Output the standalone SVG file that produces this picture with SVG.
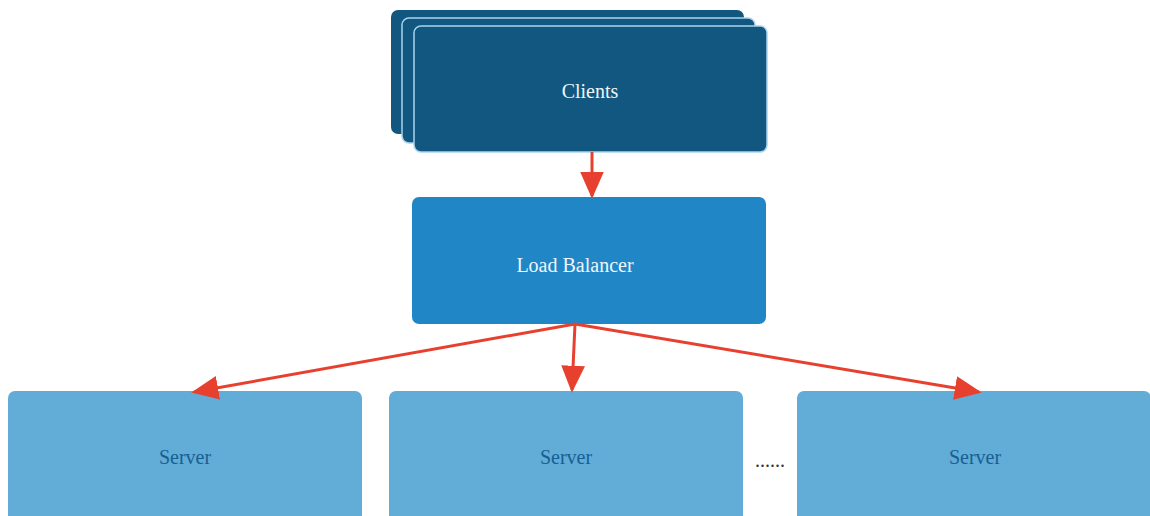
<svg xmlns="http://www.w3.org/2000/svg" width="1150" height="516" viewBox="0 0 1150 516">
<style>
.cl{fill:#11577f;stroke:#a9d3ee;stroke-width:1.5}
.lb{fill:#2186c6}
.sv{fill:#62acd8}
.t{font-family:"Liberation Serif",serif;font-size:20px;text-anchor:middle;dominant-baseline:central}
.tw{fill:#eef6fc}
.td{fill:#175f92}
.e{stroke:#e8402e;stroke-width:3;fill:none;marker-end:url(#ah)}
</style>
<defs>
<marker id="ah" viewBox="0 0 10 10" refX="9" refY="5" markerWidth="9" markerHeight="9" markerUnits="strokeWidth" orient="auto">
<path d="M0,0.6 L10,5 L0,9.4 Z" fill="#e8402e"/>
</marker>
</defs>
<rect width="1150" height="516" fill="#ffffff"/>
<g id="clients">
<rect class="cl" x="391" y="10" width="353" height="124" rx="7" style="stroke:none"/>
<rect class="cl" x="402" y="18" width="353" height="125" rx="7"/>
<rect class="cl" x="414" y="26" width="353" height="126" rx="7"/>
<text class="t tw" x="590" y="91">Clients</text>
</g>
<g id="lb">
<rect class="lb" x="412" y="197" width="354" height="127" rx="7"/>
<text class="t tw" x="575" y="265">Load Balancer</text>
</g>
<g id="server1">
<rect class="sv" x="8" y="391" width="354" height="140" rx="7"/>
<text class="t td" x="185" y="457">Server</text>
</g>
<g id="server2">
<rect class="sv" x="389" y="391" width="354" height="140" rx="7"/>
<text class="t td" x="566" y="457">Server</text>
</g>
<g id="server3">
<rect class="sv" x="797" y="391" width="354" height="140" rx="7"/>
<text class="t td" x="975" y="457">Server</text>
</g>
<text class="t" x="770" y="460" style="fill:#333">......</text>
<g id="connectors">
<path class="e" d="M592,152 L592,196"/>
<path class="e" d="M575,324 L194,392"/>
<path class="e" d="M575,324 L572,390"/>
<path class="e" d="M575,324 L979,392"/>
</g>
</svg>
